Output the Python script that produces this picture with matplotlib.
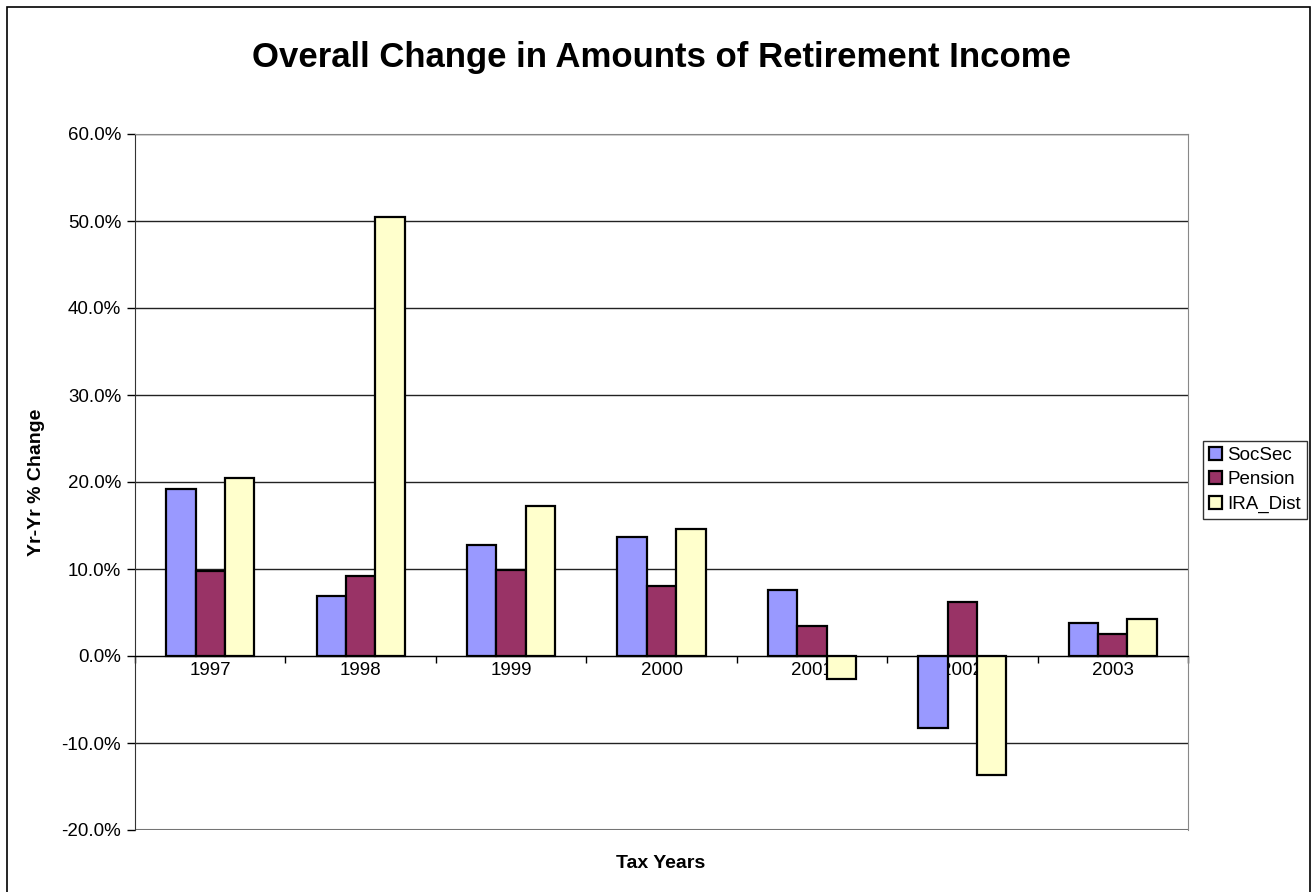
import numpy as np
import matplotlib.pyplot as plt
from matplotlib.patches import Rectangle
from matplotlib.ticker import FuncFormatter, FixedLocator

years = ['1997', '1998', '1999', '2000', '2001', '2002', '2003']
socsec = [19.2, 6.9, 12.8, 13.65, 7.6, -8.3, 3.8]
pension = [9.75, 9.2, 9.9, 8.0, 3.45, 6.25, 2.5]
ira_dist = [20.5, 50.5, 17.2, 14.65, -2.7, -13.7, 4.3]

series = [('SocSec', socsec, '#9999ff'),
          ('Pension', pension, '#993366'),
          ('IRA_Dist', ira_dist, '#ffffcc')]

plt.rcParams['font.family'] = ['Liberation Sans', 'DejaVu Sans']

fig = plt.figure(figsize=(13.13, 8.92), dpi=100)
W, H = 1313, 892
ax = fig.add_axes([135 / W, 1 - 830 / H, (1188 - 135) / W, (830 - 134) / H])

# outer chart border (bottom edge runs off the image)
fig.patches.append(Rectangle((7 / W, -0.01), (1310 - 7) / W, 1.01 - 7 / H, transform=fig.transFigure,
                             fill=False, edgecolor='black', linewidth=1.2))

x = np.arange(len(years))
width = 0.195
for i, (name, vals, colour) in enumerate(series):
    ax.bar(x + (i - 1) * width, vals, width, color=colour, edgecolor='black',
           linewidth=1.6, label=name, zorder=3)

ax.set_xlim(-0.5, len(years) - 0.5)
ax.set_ylim(-20, 60)
ax.set_yticks(np.arange(-20, 61, 10))
ax.yaxis.set_major_formatter(FuncFormatter(lambda v, p: '{:.1f}%'.format(v)))
ax.grid(axis='y', color='#222222', linewidth=1.0, zorder=0)
ax.tick_params(axis='y', labelsize=13.5, length=6, width=1, pad=4)

# category axis drawn at zero
ax.spines['bottom'].set_position(('data', 0))
ax.spines['bottom'].set_color('black')
ax.spines['bottom'].set_zorder(4)
ax.xaxis.set_major_locator(FixedLocator(np.arange(-0.5, len(years), 1.0)))
ax.xaxis.set_major_formatter(FuncFormatter(lambda v, p: ''))
ax.xaxis.set_minor_locator(FixedLocator(x))
ax.set_xticklabels(years, minor=True)
ax.tick_params(axis='x', which='major', length=5, width=1, direction='out')
ax.tick_params(axis='x', which='minor', length=0, labelsize=13.5, pad=4)

ax.spines['top'].set_color('#888888')
ax.spines['right'].set_color('#888888')
ax.spines['left'].set_color('#333333')

# bottom border of the plot area
ax.axhline(-20, color='#888888', linewidth=1.5, zorder=1)

fig.text(661 / W, 1 - 57 / H, 'Overall Change in Amounts of Retirement Income',
         ha='center', va='center', fontsize=25, fontweight='bold')
fig.text(37 / W, 1 - 482 / H, 'Yr-Yr % Change', ha='center', va='center',
         rotation=90, fontsize=14, fontweight='bold')
fig.text(661 / W, 1 - 863 / H, 'Tax Years', ha='center', va='center',
         fontsize=14, fontweight='bold')

leg = fig.legend(loc='center left', bbox_to_anchor=(1203 / W, 1 - 480 / H), fontsize=13.5,
                 frameon=True, fancybox=False, edgecolor='black', handlelength=0.7,
                 handleheight=0.7, handletextpad=0.3, borderpad=0.3, labelspacing=0.4,
                 borderaxespad=0)
leg.get_frame().set_linewidth(1.0)

fig.savefig('out.png', dpi=100)
